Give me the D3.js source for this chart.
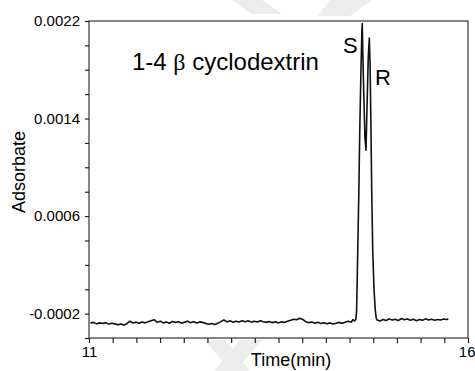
<!DOCTYPE html>
<html>
<head>
<meta charset="utf-8">
<script src="https://cdn.jsdelivr.net/npm/d3@7"></script>
<style>
  body { margin: 0; background: #fff; }
  svg { display: block; font-family: "Liberation Sans", Arial, sans-serif; }
</style>
</head>
<body>
<div id="chart"></div>
<script>
var w = 475, h = 371
var left_margin = 89, right_margin = 7, top_margin = 21, bottom_margin = 33

// axis setup
var x_domain = [11, 16]
var y_domain = [-0.0004, 0.0022]
var x_ticks = [11, 11.3125, 11.625, 11.9375, 12.25, 12.5625, 12.875, 13.1875, 13.5,
  13.8125, 14.125, 14.4375, 14.75, 15.0625, 15.375, 15.6875, 16]
var x_labels = [11, 16]
var y_ticks = [-0.0004, -0.0002, 0, 0.0002, 0.0004, 0.0006, 0.0008, 0.001, 0.0012,
  0.0014, 0.0016, 0.0018, 0.002, 0.0022]
var y_labels = [-0.0002, 0.0006, 0.0014, 0.0022]

// baseline before the peaks: [time, absorbance]
var base_before = [
  [11.02,-0.000278],[11.06,-0.000272],[11.10,-0.000284],[11.14,-0.000276],[11.18,-0.000281],
  [11.22,-0.000274],[11.26,-0.000286],[11.30,-0.000279],[11.34,-0.000284],[11.38,-0.000291],
  [11.42,-0.000286],[11.46,-0.000294],[11.50,-0.000283],[11.54,-0.000262],[11.58,-0.000277],
  [11.62,-0.000270],[11.66,-0.000279],[11.70,-0.000268],[11.74,-0.000276],[11.78,-0.000266],
  [11.82,-0.000258],[11.86,-0.000250],[11.90,-0.000271],[11.94,-0.000262],[11.98,-0.000276],
  [12.02,-0.000268],[12.06,-0.000279],[12.10,-0.000265],[12.14,-0.000273],[12.18,-0.000266],
  [12.22,-0.000278],[12.26,-0.000270],[12.30,-0.000262],[12.34,-0.000274],[12.38,-0.000266],
  [12.42,-0.000277],[12.46,-0.000268],[12.50,-0.000272],[12.54,-0.000280],[12.58,-0.000287],
  [12.62,-0.000281],[12.66,-0.000289],[12.70,-0.000280],[12.74,-0.000266],[12.78,-0.000251],
  [12.82,-0.000268],[12.86,-0.000259],[12.90,-0.000270],[12.94,-0.000262],[12.98,-0.000268],
  [13.02,-0.000259],[13.06,-0.000266],[13.10,-0.000258],[13.14,-0.000270],[13.18,-0.000262],
  [13.22,-0.000268],[13.26,-0.000258],[13.30,-0.000266],[13.34,-0.000272],[13.38,-0.000265],
  [13.42,-0.000274],[13.46,-0.000267],[13.50,-0.000276],[13.54,-0.000266],[13.58,-0.000272],
  [13.62,-0.000262],[13.66,-0.000255],[13.70,-0.000246],[13.74,-0.000250],[13.78,-0.000238],
  [13.82,-0.000248],[13.86,-0.000266],[13.90,-0.000274],[13.94,-0.000268],[13.98,-0.000279],
  [14.02,-0.000271],[14.06,-0.000282],[14.10,-0.000274],[14.14,-0.000283],[14.18,-0.000276],
  [14.22,-0.000285],[14.26,-0.000279],[14.30,-0.000272],[14.34,-0.000280],[14.38,-0.000271],
  [14.42,-0.000262],[14.46,-0.000270],[14.48,-0.000250]
]

// the S and R enantiomer peaks
var peaks = [
  [14.500,-0.000260],[14.520,-0.000250],[14.530,-0.000180],[14.536,0.000000],[14.545,0.000300],
  [14.560,0.000800],[14.572,0.001300],[14.588,0.001800],[14.600,0.002120],[14.605,0.002180],
  [14.612,0.001950],[14.625,0.001600],[14.640,0.001250],[14.654,0.001140],[14.668,0.001500],
  [14.684,0.001900],[14.698,0.002060],[14.708,0.001850],[14.718,0.001400],[14.730,0.000800],
  [14.743,0.000320],[14.760,0.000000],[14.778,-0.000180],[14.790,-0.000240]
]

// baseline after the peaks
var base_after = [
  [14.80,-0.000252],[14.84,-0.000260],[14.88,-0.000248],[14.92,-0.000256],[14.96,-0.000245],
  [15.00,-0.000253],[15.04,-0.000246],[15.08,-0.000257],[15.12,-0.000240],[15.16,-0.000251],
  [15.20,-0.000244],[15.24,-0.000254],[15.28,-0.000247],[15.32,-0.000258],[15.36,-0.000249],
  [15.40,-0.000255],[15.44,-0.000243],[15.48,-0.000252],[15.52,-0.000246],[15.56,-0.000255],
  [15.60,-0.000248],[15.64,-0.000252],[15.68,-0.000244],[15.72,-0.000249],[15.74,-0.000241]
]

var signal = base_before.concat(peaks, base_after)

var x = d3.scaleLinear().domain(x_domain).range([left_margin, w - right_margin])
var y = d3.scaleLinear().domain(y_domain).range([h - bottom_margin, top_margin])

var svg = d3.select("#chart").append("svg")
  .attr("width", w)
  .attr("height", h)

// faint watermark strokes in the background
var wm = svg.append("g").attr("fill", "#ececec")
wm.append("path").attr("d", "M232,0 L262,0 L282,14 L252,14 Z")
wm.append("path").attr("d", "M330,0 L372,0 L350,16 L318,16 Z")
wm.append("path").attr("d", "M205,340 L225,340 L250,371 L230,371 Z")
wm.append("path").attr("d", "M240,340 L262,340 L235,371 L214,371 Z")

// frame
svg.append("rect")
  .attr("x", x(x_domain[0]))
  .attr("y", y(y_domain[1]))
  .attr("width", x(x_domain[1]) - x(x_domain[0]))
  .attr("height", y(y_domain[0]) - y(y_domain[1]))
  .attr("fill", "none")
  .attr("stroke", "#444")
  .attr("stroke-width", 1.3)

var x_axis = d3.axisBottom(x)
  .tickValues(x_ticks)
  .tickSize(5)
  .tickPadding(3)
  .tickFormat(function(d){ return x_labels.indexOf(d) >= 0 ? d3.format("d")(d) : "" })

var gx = svg.append("g")
  .attr("transform", "translate(0," + y(y_domain[0]) + ")")
  .call(x_axis)
gx.select(".domain").remove()
gx.selectAll("line").attr("stroke", "#222").attr("stroke-width", 1.2)
gx.selectAll("text").attr("font-size", 15).attr("fill", "#000")
  .attr("font-family", "Liberation Sans, Arial, sans-serif")
// the last label sits on the right edge, keep it inside the page
gx.selectAll("text").filter(function(d){ return d === x_domain[1] })
  .attr("text-anchor", "end")
  .attr("x", w - x(x_domain[1]))

var y_axis = d3.axisLeft(y)
  .tickValues(y_ticks)
  .tickSize(4)
  .tickPadding(5)
  .tickFormat(function(d){
    if (!y_labels.some(function(v){ return Math.abs(v - d) < 1e-9 })) return ""
    return d3.format(".4f")(d).replace("\u2212", "-")
  })

var gy = svg.append("g")
  .attr("transform", "translate(" + x(x_domain[0]) + ",0)")
  .call(y_axis)
gy.select(".domain").remove()
gy.selectAll("line").attr("stroke", "#222").attr("stroke-width", 1.2)
gy.selectAll("text").attr("font-size", 15).attr("fill", "#000")
  .attr("font-family", "Liberation Sans, Arial, sans-serif")

// the chromatogram trace
var line = d3.line()
  .x(function(d){ return x(d[0]) })
  .y(function(d){ return y(d[1]) })

svg.append("path")
  .datum(signal)
  .attr("d", line)
  .attr("fill", "none")
  .attr("stroke", "#111")
  .attr("stroke-width", 1.6)
  .attr("stroke-linejoin", "round")

// axis titles
svg.append("text")
  .attr("x", 291)
  .attr("y", 366)
  .attr("text-anchor", "middle")
  .attr("font-size", 18)
  .text("Time(min)")

svg.append("text")
  .attr("transform", "translate(25,172) rotate(-90)")
  .attr("text-anchor", "middle")
  .attr("font-size", 18)
  .text("Adsorbate")

// annotations
var title = svg.append("text")
  .attr("x", 132)
  .attr("y", 70)
  .attr("font-size", 24)
title.append("tspan").text("1-4 ")
title.append("tspan").attr("font-family", "Liberation Serif, Times New Roman, serif").text("β")
title.append("tspan").text(" cyclodextrin")

svg.append("text").attr("x", 343).attr("y", 53).attr("font-size", 22).text("S")
svg.append("text").attr("x", 375).attr("y", 85).attr("font-size", 22).text("R")
</script>
</body>
</html>
